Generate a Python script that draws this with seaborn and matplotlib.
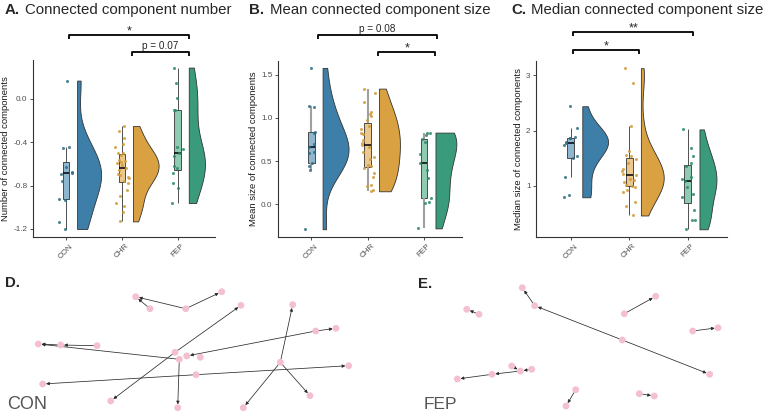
import numpy as np
import matplotlib
matplotlib.use("Agg")
import matplotlib.pyplot as plt
import seaborn as sns

np.random.seed(3)

groups = ["CON", "CHR", "FEP"]

# A. number of connected components
num_con = [0.17, -0.44, -0.45, -0.63, -0.67, -0.68, -0.69, -0.76, -0.92, -0.93, -1.14, -1.20]
num_chr = [-0.25, -0.30, -0.36, -0.42, -0.44, -0.50, -0.50, -0.52, -0.56, -0.57, -0.58, -0.59, -0.61, -0.64,
           -0.66, -0.69, -0.70, -0.72, -0.73, -0.76, -0.78, -0.84, -0.90, -0.96, -0.99, -1.04, -1.13]
num_fep = [0.29, 0.15, 0.01, -0.10, -0.10, -0.44, -0.46, -0.50, -0.53, -0.62, -0.64, -0.68, -0.78, -0.82, -0.96]

# B. mean connected component size
mean_con = [1.58, 1.14, 1.13, 0.84, 0.83, 0.70, 0.66, 0.61, 0.59, 0.48, 0.44, 0.40, -0.29]
mean_chr = [1.34, 1.29, 1.18, 1.07, 1.05, 1.02, 0.98, 0.91, 0.87, 0.82, 0.81, 0.75, 0.71, 0.69,
            0.66, 0.61, 0.55, 0.52, 0.46, 0.44, 0.42, 0.36, 0.32, 0.22, 0.21, 0.16, 0.15]
mean_fep = [0.83, 0.82, 0.80, 0.76, 0.72, 0.58, 0.48, 0.40, 0.30, 0.07, 0.02, 0.01, -0.28]

# C. median connected component size
med_con = [2.44, 2.05, 1.89, 1.87, 1.86, 1.80, 1.77, 1.73, 1.53, 1.50, 1.16, 0.84, 0.79]
med_chr = [3.13, 2.87, 2.08, 1.63, 1.56, 1.54, 1.48, 1.42, 1.30, 1.27, 1.21, 1.19, 1.12, 1.10,
           1.06, 1.02, 1.00, 0.98, 0.92, 0.89, 0.70, 0.63, 0.46]
med_fep = [2.02, 1.68, 1.54, 1.41, 1.35, 1.16, 1.13, 1.08, 0.98, 0.85, 0.80, 0.56, 0.38, 0.38, 0.21]

# significance brackets: (from, to, label)
sig_a = [(0.05, 2.2, "*"), (1.18, 2.2, "p = 0.07")]
sig_b = [(0.11, 2.23, "p = 0.08"), (1.19, 2.19, "*")]
sig_c = [(0.05, 2.09, "**"), (0.05, 1.16, "*")]

# D. CON network layout + directed edges
con_node_x = [135.7, 150, 185.7, 221.7, 241, 292.7, 315.7, 336, 38.3, 60.7, 97, 175, 179.3, 186.7, 200.3,
              280.3, 348.7, 196, 42.7, 110.7, 177.7, 243.3, 310]
con_node_y = [296.7, 308.7, 308.7, 291.7, 305.3, 304.7, 331, 328.3, 344, 345, 345.7, 352.3, 359.3, 356, 357.3,
              362.3, 365.7, 374.7, 384, 401, 407.7, 407.7, 395.7]
con_edges = [(2, 0), (1, 0), (2, 3), (10, 9), (9, 8), (12, 8), (11, 4), (11, 19), (6, 7), (6, 13),
             (15, 5), (15, 21), (15, 22), (17, 18), (17, 16), (12, 20)]

# E. FEP network layout + directed edges
fep_node_x = [522.3, 534.7, 466.7, 479, 655.7, 624.3, 718, 692.7, 622.3, 709.7, 511.7, 520.3, 531.7, 492,
              457.3, 575.7, 566, 639.3, 654.3]
fep_node_y = [287.7, 305.7, 309.3, 314.3, 296.3, 313.7, 327.7, 331, 340, 374.3, 366, 371, 369.3, 374.3,
              379, 389.7, 406, 393.7, 396]
fep_edges = [(1, 0), (3, 2), (5, 4), (7, 6), (8, 1), (8, 9), (10, 11), (12, 11), (11, 13), (13, 14),
             (15, 16), (17, 18)]

violin_cols = ["#3d7fa8", "#d9a142", "#3a9b7c"]
box_cols = ["#8fb6cf", "#ecc88f", "#8fcab3"]
point_cols = ["#2e6e82", "#d19a3a", "#2a8a68"]

sns.set_style("ticks")
plt.rcParams["font.family"] = ["Liberation Sans", "DejaVu Sans"]

W, H = 765, 413
fig = plt.figure(figsize=(7.65, 4.13), dpi=100, facecolor="white")


def px_rect(l, t, r, b):
    return [l / W, 1 - b / H, (r - l) / W, (b - t) / H]


def raincloud(ax, values, ylim, yticks, ylabels, ylabel, half_w, whisk_col, whisk_lw):
    for i, vals in enumerate(values):
        n = len(vals)
        c = violin_cols[i]
        # half violin: flat side at i + 0.2, reaching half_w to the right
        sns.violinplot(x=[i + 0.2 + half_w[i] / 2] * n, y=vals, hue=["r"] * n, hue_order=["l", "r"],
                       split=True, palette={"l": c, "r": c}, native_scale=True, inner=None, cut=0,
                       density_norm="width", width=half_w[i], bw_adjust=0.9, saturation=1,
                       linewidth=0.6, linecolor="#333333", legend=False, orient="x", ax=ax)
        sns.boxplot(x=[i] * n, y=vals, native_scale=True, width=0.115, color=box_cols[i], saturation=1,
                    showfliers=False, linewidth=0.6, linecolor="#333333", orient="x",
                    medianprops={"color": "black", "linewidth": 1.1},
                    whiskerprops={"color": whisk_col, "linewidth": whisk_lw},
                    capprops={"visible": False}, ax=ax)
        sns.stripplot(x=[i] * n, y=vals, native_scale=True, jitter=0.13, color=point_cols[i],
                      size=2.2, alpha=0.85, linewidth=0, orient="x", ax=ax)
    ax.set_xlim(-0.59, 2.67)
    ax.set_ylim(*ylim)
    ax.set_xticks([0, 1, 2])
    ax.set_xticklabels(groups, rotation=45)
    ax.set_yticks(yticks)
    ax.set_yticklabels(ylabels)
    ax.tick_params(length=2.5, width=0.6, color="#333333", labelcolor="#4d4d4d", labelsize=5.9, pad=1.5)
    ax.set_xlabel("")
    ax.set_ylabel(ylabel, fontsize=6.8, color="#1a1a1a", labelpad=2)
    sns.despine(ax=ax)
    for s in ["left", "bottom"]:
        ax.spines[s].set_linewidth(0.8)
        ax.spines[s].set_color("#333333")


def brackets(ax, sigs, ys):
    tr = ax.get_xaxis_transform()
    for (x0, x1, lab), y in zip(sigs, ys):
        ax.plot([x0, x0, x1, x1], [y - 0.025, y, y, y - 0.025], color="black", lw=1.3,
                transform=tr, clip_on=False, solid_capstyle="butt")
        star = lab.startswith("*")
        ax.text((x0 + x1) / 2, y + (0.004 if star else 0.017), lab, ha="center", va="baseline",
                fontsize=9 if star else 7.2, transform=tr)


ax_a = fig.add_axes(px_rect(33, 60, 215, 237))
raincloud(ax_a, [num_con, num_chr, num_fep], (-1.274, 0.36), [-1.2, -0.8, -0.4, 0.0],
          ["-1.2", "-0.8", "-0.4", "0.0"], "Number of connected components", [0.43, 0.46, 0.29],
          "#333333", 0.6)
brackets(ax_a, sig_a, [1.141, 1.045])

ax_b = fig.add_axes(px_rect(278, 61, 462, 237))
raincloud(ax_b, [mean_con, mean_chr, mean_fep], (-0.38, 1.66), [0.0, 0.5, 1.0, 1.5],
          ["0.0", "0.5", "1.0", "1.5"], "Mean size of connected components", [0.46, 0.37, 0.37],
          "#a0a0a0", 1.5)
brackets(ax_b, sig_b, [1.148, 1.051])

ax_c = fig.add_axes(px_rect(536, 61, 727, 237))
raincloud(ax_c, [med_con, med_chr, med_fep], (0.07, 3.26), [1, 2, 3], ["1", "2", "3"],
          "Median size of connected components", [0.44, 0.39, 0.29], "#333333", 0.6)
brackets(ax_c, sig_c, [1.165, 1.0625])

# panel titles
titles = [(5, 25, "A.", "Connected component number"),
          (249, 270, "B.", "Mean connected component size"),
          (511, 531, "C.", "Median connected component size")]
for xl, xt, letter, txt in titles:
    fig.text(xl / W, 1 - 14 / H, letter, fontsize=10.8, fontweight="bold", va="baseline")
    fig.text(xt / W, 1 - 14 / H, txt, fontsize=10.8, va="baseline")


def network(ax, nx, ny, edges, xlim):
    for s, d in edges:
        ax.annotate("", xy=(nx[d], ny[d]), xytext=(nx[s], ny[s]),
                    arrowprops=dict(arrowstyle="-|>", color="#2b2b2b", lw=0.55, mutation_scale=4.5,
                                    shrinkA=2.2, shrinkB=2.4))
    sns.scatterplot(x=nx, y=ny, color="#f4c0cf", s=24, edgecolor="none", zorder=3, ax=ax)
    ax.set_xlim(*xlim)
    ax.set_ylim(413, 263)
    ax.axis("off")


ax_d = fig.add_axes(px_rect(0, 263, 382, 413))
network(ax_d, con_node_x, con_node_y, con_edges, (0, 382))
ax_e = fig.add_axes(px_rect(382, 263, 765, 413))
network(ax_e, fep_node_x, fep_node_y, fep_edges, (382, 765))

fig.text(5 / W, 1 - 287 / H, "D.", fontsize=10.8, fontweight="bold", va="baseline")
fig.text(418 / W, 1 - 288 / H, "E.", fontsize=10.8, fontweight="bold", va="baseline")
fig.text(7 / W, 1 - 409 / H, "CON", fontsize=13, color="#555555", va="baseline")
fig.text(424 / W, 1 - 409 / H, "FEP", fontsize=12.5, color="#555555", va="baseline")

fig.savefig("out.png", dpi=100, facecolor="white")
